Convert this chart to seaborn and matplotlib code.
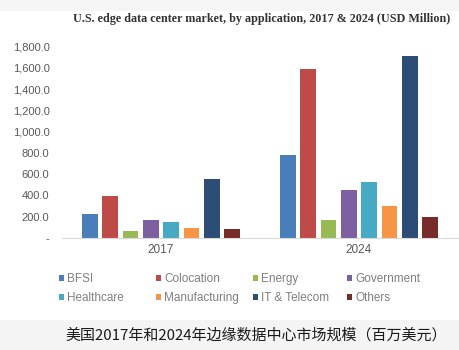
import matplotlib
matplotlib.use("Agg")
import matplotlib.pyplot as plt
import seaborn as sns
import pandas as pd
from matplotlib.patches import Rectangle

years = ["2017", "2024"]
applications = ["BFSI", "Colocation", "Energy", "Government",
                "Healthcare", "Manufacturing", "IT & Telecom", "Others"]
values_2017 = [222, 392, 66, 172, 153, 97, 555, 82]
values_2024 = [784, 1593, 166, 451, 524, 298, 1715, 198]
yticks = [0, 200, 400, 600, 800, 1000, 1200, 1400, 1600, 1800]

colors = ["#4a7ebb", "#be4b48", "#98b954", "#7d60a0",
          "#46aac4", "#f69546", "#2c4d75", "#772c2a"]

df = pd.DataFrame({
    "year": [y for y in years for _ in applications],
    "application": applications * 2,
    "value": values_2017 + values_2024,
})

sns.set_theme(style="white")
plt.rcParams["font.family"] = ["Liberation Sans", "DejaVu Sans"]

fig = plt.figure(figsize=(4.6, 3.5), dpi=100)
fig.patch.set_facecolor("white")

# grey bands at top and bottom
fig.patches.append(Rectangle((0, 0), 1, 30 / 350, transform=fig.transFigure,
                             facecolor="#f4f4f4", edgecolor="none", zorder=0))
fig.patches.append(Rectangle((0, 1 - 11 / 350), 1, 11 / 350, transform=fig.transFigure,
                             facecolor="#f5f5f5", edgecolor="none", zorder=0))

ax = fig.add_axes([62 / 460, 112 / 350, 396 / 460, 191.3 / 350])
sns.barplot(data=df, x="year", y="value", hue="application", hue_order=applications,
            palette=colors, ax=ax, width=0.82, gap=0.22, saturation=1,
            edgecolor="none", legend=True)

ax.set_xlim(-0.5, 1.5)
ax.set_ylim(0, 1800)
ax.set_yticks(yticks)
ax.set_yticklabels(["-" if v == 0 else f"{v:,.1f}" for v in yticks])
ax.set_xlabel("")
ax.set_ylabel("")
ax.tick_params(axis="both", length=0, colors="#595959", labelsize=8)
ax.tick_params(axis="y", pad=9)
ax.tick_params(axis="x", pad=4, labelsize=8.5)
for s in ["top", "right", "left"]:
    ax.spines[s].set_visible(False)
ax.spines["bottom"].set_color("#d9d9d9")
ax.spines["bottom"].set_linewidth(0.8)
ax.set_facecolor("white")

handles, labels = ax.get_legend_handles_labels()
ax.get_legend().remove()

# legend laid out as four fixed columns of two entries each
col_x = [53, 150, 247, 341]
for j, x in enumerate(col_x):
    hs = [handles[j], handles[j + 4]]
    ls = [labels[j], labels[j + 4]]
    fig.legend(hs, ls, loc="upper left",
               bbox_to_anchor=(x / 460, 1 - 267 / 350),
               frameon=False, fontsize=8.5, handlelength=0.4,
               handleheight=0.4, handletextpad=0.3, labelspacing=0.6,
               borderpad=0, labelcolor="#7f7f7f")

fig.text(262 / 460, 1 - 19 / 350,
         "U.S. edge data center market, by application, 2017 & 2024 (USD Million)",
         ha="center", va="center", fontsize=8.7, fontweight="bold",
         family=["Liberation Serif", "DejaVu Serif"], color="#333333")

fig.text(256 / 460, 1 - 335 / 350,
         "美国2017年和2024年边缘数据中心市场规模（百万美元）",
         ha="center", va="center", fontsize=10.8,
         family=["Noto Sans CJK SC", "DejaVu Sans"], color="#1a1a1a")

fig.savefig("out.png", dpi=100, facecolor=fig.get_facecolor())
